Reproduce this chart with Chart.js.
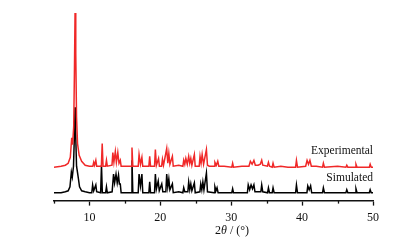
<!DOCTYPE html>
<html lang="en">

<head>
    <meta charset="UTF-8">
    <title>PXRD</title>
    <script src="https://cdn.jsdelivr.net/npm/chart.js"></script>
    <style>
        body { margin: 0; background: #fff; }
        canvas { display: block; }
    </style>
</head>

<body>
    <canvas id="grafico" width="411" height="252"></canvas>
</body>

</html>
<script>
    // experimental pattern (red), 2theta and intensity (arbitrary units, offset)
    const expTheta = [5.0, 6.0, 6.6, 7.0, 7.3, 7.5, 7.62, 7.78, 7.88, 7.97, 8.07, 8.18, 8.32, 8.55, 8.9, 9.4, 10.0,
        10.48, 10.6, 10.72, 10.9, 11.02, 11.68, 11.8, 11.92, 12.28, 12.4, 12.52, 13.18, 13.3, 13.45, 13.65, 13.8, 14.0, 14.17, 14.35, 14.47,
        15.88, 16.0, 16.12, 16.88, 17.0, 17.2, 17.4, 17.52, 18.38, 18.5, 18.62, 19.18, 19.3, 19.45, 19.75, 19.87,
        20.18, 20.3, 20.45, 20.9, 21.05, 21.2, 21.35, 21.7, 21.82, 22.6, 23.18, 23.3, 23.45, 23.6, 23.8, 24.0, 24.15, 24.3, 24.45, 24.8, 24.92,
        25.48, 25.6, 25.75, 25.9, 26.1, 26.5, 26.65, 26.9, 27.58, 27.7, 27.9, 28.1, 28.25, 29.0, 30.08, 30.2, 30.32,
        31.5, 32.5, 32.7, 32.95, 33.2, 33.4, 33.8, 34.1, 34.3, 34.45, 35.1, 35.25, 35.4, 35.78, 35.9, 36.05, 37.0, 38.0,
        39.08, 39.2, 39.35, 40.5, 40.7, 40.9, 41.1, 41.3, 42.0, 42.88, 43.0, 43.15, 45.0, 46.18, 46.3, 46.45,
        47.48, 47.6, 47.75, 49.48, 49.6, 49.75, 50.0]
    const expInt = [34, 35, 36, 38, 44, 64, 57, 75, 130, 191, 150, 85, 58, 46, 40, 36, 35,
        35, 39, 36, 41, 35, 35, 58, 35, 35, 41, 35, 36, 49, 39, 50, 39, 49, 38, 41, 35,
        35, 54, 35, 35, 47, 37, 44, 35, 35, 45, 35, 35, 52, 36, 43, 35,
        35, 42, 36, 53, 38, 48, 37, 45, 35, 36, 35, 41, 37, 43, 37, 45, 38, 43, 36, 47, 35,
        35, 45, 38, 47, 37, 52, 36, 35, 35, 39, 36, 40, 35, 35, 34, 38, 34,
        35, 35, 40, 37, 41, 36, 36, 37, 41, 36, 35, 39, 35, 34, 38, 34, 35, 34,
        34, 41, 34, 35, 41, 37, 41, 35, 35, 34, 38, 34, 35, 34, 36, 34,
        34, 37, 34, 34, 37, 34, 34]

    // simulated pattern (black)
    const simTheta = [5.0, 6.0, 6.6, 7.0, 7.25, 7.45, 7.58, 7.75, 7.9, 7.97, 8.04, 8.18, 8.33, 8.45, 8.6, 8.9, 9.4, 10.0,
        10.33, 10.45, 10.6, 10.9, 11.02, 11.58, 11.7, 11.82, 12.28, 12.4, 12.52, 13.2, 13.4, 13.55, 13.75, 13.92, 14.1, 14.22, 14.35, 14.47,
        15.88, 16.0, 16.12, 16.88, 17.0, 17.2, 17.4, 17.52, 18.38, 18.5, 18.62, 19.18, 19.3, 19.45, 19.7, 19.85,
        20.2, 20.35, 20.78, 20.9, 21.05, 21.2, 21.35, 21.7, 21.82, 22.6, 23.18, 23.3, 23.45, 23.88, 24.0, 24.15, 24.3, 24.45, 24.8, 24.92,
        25.58, 25.7, 25.85, 26.0, 26.15, 26.5, 26.65, 27.58, 27.7, 27.85, 28.0, 28.15, 30.08, 30.2, 30.32,
        32.28, 32.4, 32.6, 32.8, 33.0, 33.2, 33.35, 34.18, 34.3, 34.45, 35.13, 35.25, 35.4, 35.78, 35.9, 36.05,
        39.08, 39.2, 39.35, 40.68, 40.8, 41.0, 41.2, 41.35, 42.88, 43.0, 43.15, 46.18, 46.3, 46.45,
        47.48, 47.6, 47.75, 49.48, 49.6, 49.75, 50.0]
    const simInt = [8, 8, 9, 10, 14, 29, 24, 35, 72, 95, 72, 35, 28, 22, 14, 10, 9, 8,
        8, 16, 10, 16, 9, 8, 36, 8, 8, 14, 8, 9, 27, 18, 27, 18, 26, 17, 17, 8,
        8, 41, 8, 8, 27, 15, 27, 8, 8, 19, 8, 8, 27, 12, 20, 10,
        17, 9, 9, 27, 14, 22, 11, 17, 8, 9, 8, 13, 9, 9, 19, 11, 17, 10, 18, 8,
        9, 17, 11, 19, 11, 28, 9, 8, 14, 10, 13, 8, 8, 12, 8,
        8, 16, 11, 16, 12, 16, 9, 9, 16, 9, 8, 13, 8, 8, 13, 8,
        8, 16, 8, 8, 15, 11, 15, 8, 8, 13, 8, 8, 11, 8,
        8, 12, 8, 8, 11, 8, 8]

    const xMajor = [10, 20, 30, 40, 50]
    const nomes = ['Experimental', 'Simulated']
    const posNomes = [50, 23] // altura do texto de cada curva

    const fonte = '"Liberation Serif", "DejaVu Serif", serif'

    function pontos(xs, ys) {
        return xs.map((x, i) => ({ x: x, y: ys[i] }))
    }

    // nomes das curvas, tiques menores e titulo do eixo x
    const extras = {
        id: 'extras',
        afterDraw(chart) {
            const ctx = chart.ctx
            const sx = chart.scales.x
            const sy = chart.scales.y
            const base = chart.chartArea.bottom
            ctx.save()
            ctx.strokeStyle = '#111'
            ctx.lineWidth = 1.3
            for (let v = 5; v < 50; v += 10) {
                const px = Math.round(sx.getPixelForValue(v)) + 0.5
                ctx.beginPath()
                ctx.moveTo(px, base)
                ctx.lineTo(px, base + 3)
                ctx.stroke()
            }
            ctx.fillStyle = '#111'
            ctx.font = '11.5px ' + fonte
            ctx.textAlign = 'right'
            ctx.textBaseline = 'middle'
            nomes.forEach((n, i) => {
                ctx.fillText(n, sx.getPixelForValue(50), sy.getPixelForValue(posNomes[i]))
            })
            // 2θ / (°)
            ctx.textAlign = 'left'
            ctx.font = '12px ' + fonte
            let x = 215
            const y = 231
            ctx.fillText('2', x, y)
            x += ctx.measureText('2').width
            ctx.font = 'italic 12px ' + fonte
            ctx.fillText('θ', x, y)
            x += ctx.measureText('θ').width
            ctx.font = '12px ' + fonte
            ctx.fillText(' / (°)', x, y)
            ctx.restore()
        }
    }

    const config = {
        type: 'line',
        data: {
            datasets: [
                {
                    label: nomes[0],
                    data: pontos(expTheta, expInt),
                    borderColor: 'rgb(240, 40, 40)',
                    borderWidth: 1.5,
                    pointRadius: 0,
                    tension: 0,
                    order: 0
                },
                {
                    label: nomes[1],
                    data: pontos(simTheta, simInt),
                    borderColor: '#000',
                    borderWidth: 1.5,
                    pointRadius: 0,
                    tension: 0,
                    order: 1
                }
            ]
        },
        options: {
            responsive: false,
            animation: false,
            layout: {
                padding: { left: 54, right: 38, top: 10, bottom: 22 }
            },
            plugins: {
                legend: { display: false },
                tooltip: { enabled: false }
            },
            scales: {
                x: {
                    type: 'linear',
                    min: 5,
                    max: 50,
                    ticks: {
                        stepSize: 5,
                        padding: 5,
                        maxRotation: 0,
                        color: '#111',
                        font: { family: fonte, size: 12 },
                        callback: (v) => xMajor.includes(v) ? v : ''
                    },
                    grid: {
                        drawOnChartArea: false,
                        tickLength: 5,
                        tickWidth: 1.3,
                        color: (c) => xMajor.includes(c.tick && c.tick.value) ? '#111' : 'rgba(0,0,0,0)'
                    },
                    border: { display: true, color: '#111', width: 1.6 }
                },
                y: {
                    display: false,
                    min: 0,
                    max: 194
                }
            }
        },
        plugins: [extras]
    }

    const grafico = new Chart(document.getElementById('grafico'), config)
</script>
